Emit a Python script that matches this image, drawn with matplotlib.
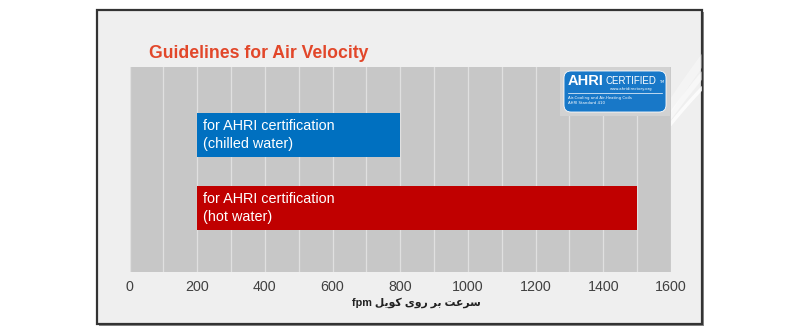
import numpy as np
import matplotlib.pyplot as plt
from matplotlib.patches import Rectangle, FancyBboxPatch

# data
categories = ['hot water', 'chilled water']
bar_start = [200, 200]
bar_end = [1500, 800]
bar_labels = ['for AHRI certification\n(hot water)', 'for AHRI certification\n(chilled water)']
bar_colors = ['#c00000', '#0070c0']
x_ticks = [0, 200, 400, 600, 800, 1000, 1200, 1400, 1600]
title = 'Guidelines for Air Velocity'

# x label: "fpm" + persian text, written in visual order with presentation forms
word_coil = '\ufede\ufbfe\ufeee\ufb90'   # کویل
word_on = '\ufbfc\ufeed\ufead'           # روی
word_over = '\ufeae\ufe91'               # بر
word_speed = '\ufe96\ufecb\ufeae\ufeb3'  # سرعت
x_label = 'fpm ' + ' '.join([word_coil, word_on, word_over, word_speed])

W, H = 800, 336
fig = plt.figure(figsize=(W / 100, H / 100), dpi=100)
fig.patch.set_facecolor('white')

# background panel with frame (pixel coords)
bg = fig.add_axes([0, 0, 1, 1])
bg.set_xlim(0, W)
bg.set_ylim(H, 0)
bg.axis('off')
bg.add_patch(Rectangle((99, 12), 605, 314, facecolor='#8a8a8a', edgecolor='none'))
panel = Rectangle((97, 10), 605, 314, facecolor='#efefef', edgecolor='none')
bg.add_patch(panel)
# soft white swooshes on the right side, kept inside the panel
t = np.linspace(0, 1, 60)
for k, a, w in [(0, 0.8, 2.5), (14, 0.5, 4), (30, 0.35, 6)]:
    ln, = bg.plot(610 + 100 * t, 250 - 170 * t ** 0.6 - k * t, color='white', lw=w, alpha=a,
                  solid_capstyle='round')
    ln.set_clip_path(panel)
bg.add_patch(Rectangle((97, 10), 605, 314, facecolor='none', edgecolor='#333333', lw=1.6))

# main axes
left, right, top, bottom = 129.5, 671, 67, 272
ax = fig.add_axes([left / W, (H - bottom) / H, (right - left) / W, (bottom - top) / H])
ax.set_facecolor('#c7c7c7')
ax.set_xlim(0, 1600)
ax.set_ylim(-0.877, 1.932)
ax.grid(axis='x', color='#e0e0e0', lw=0.9)
ax.set_axisbelow(True)
for s in ax.spines.values():
    s.set_visible(False)
ax.set_yticks([])
ax.tick_params(axis='x', length=0, pad=6)
ax.set_xticks(np.arange(0, 1601, 100))
ax.set_xticklabels([str(v) if v in x_ticks else '' for v in range(0, 1601, 100)],
                   fontfamily='Liberation Sans', fontsize=10.3, color='#404040')

ypos = np.arange(len(categories))
widths = [e - s for s, e in zip(bar_start, bar_end)]
ax.barh(ypos, widths, left=bar_start, height=0.6, color=bar_colors, zorder=3)
for y, s, lab in zip(ypos, bar_start, bar_labels):
    ax.text(s + 16, y, lab, color='white', fontsize=10.4, fontfamily='Liberation Sans',
            va='center', ha='left', linespacing=1.3, zorder=4)

fig.text(149 / W, 1 - 53 / H, title, color='#e2472a', fontsize=12.7, fontweight='bold',
         fontfamily='Liberation Sans', va='center', ha='left')
fig.text(416 / W, 1 - 303 / H, x_label, fontsize=7.8, fontweight='bold',
         family=['Liberation Sans', 'DejaVu Sans'], color='#222222', va='center', ha='center')

# AHRI certified badge
lg = fig.add_axes([560 / W, (H - 116) / H, 110 / W, 49 / H])
lg.set_xlim(0, 110)
lg.set_ylim(49, 0)
lg.axis('off')
lg.add_patch(Rectangle((-8, -3), 118, 54, facecolor='#d2d2d2', edgecolor='none'))
lg.add_patch(FancyBboxPatch((4, 4), 102, 41, boxstyle='round,pad=0,rounding_size=7',
                            facecolor='#1878c8', edgecolor='white', lw=0.6))
lg.text(8, 14, 'AHRI', color='white', fontsize=10.5, fontweight='bold', fontfamily='Liberation Sans',
        va='center', ha='left')
lg.text(45, 14, 'CERTIFIED', color='white', fontsize=7.0, fontfamily='Liberation Sans',
        va='center', ha='left')
lg.text(99, 15, 'TM', color='white', fontsize=2.5, va='center', ha='left')
lg.text(50, 22, 'www.ahridirectory.org', color='white', fontsize=2.8, va='center', ha='left')
lg.plot([8, 102], [26, 26], color='white', lw=0.5)
lg.text(8, 31, 'Air-Cooling and Air-Heating Coils', color='white', fontsize=2.8, va='center', ha='left')
lg.text(8, 36, 'AHRI Standard 410', color='white', fontsize=2.8, va='center', ha='left')

fig.savefig('out.png', dpi=100)
